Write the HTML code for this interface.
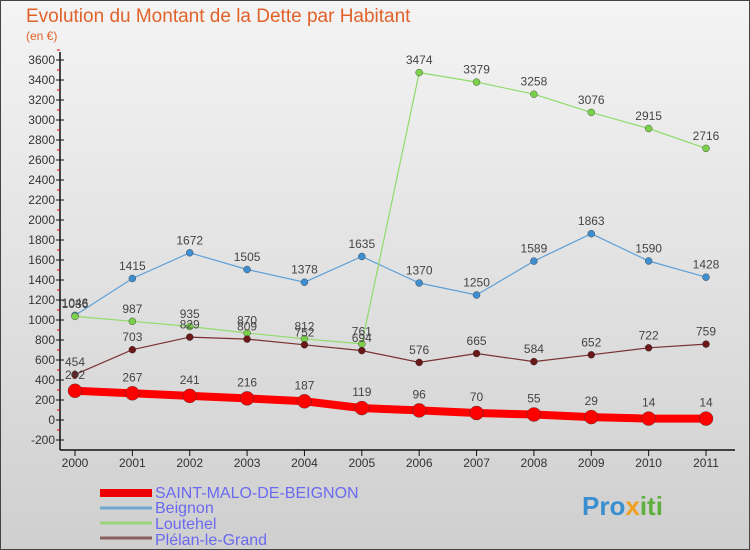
<!DOCTYPE html>
<html><head><meta charset="utf-8"><style>
body{margin:0;width:750px;height:550px;overflow:hidden;font-family:"Liberation Sans",sans-serif}
svg{display:block}
</style></head><body>
<svg id="c" width="750" height="550" xmlns="http://www.w3.org/2000/svg">
<defs><linearGradient id="bg" x1="0" y1="0" x2="0" y2="1"><stop offset="0" stop-color="#f4f4f4"/><stop offset="1" stop-color="#cfcfcf"/></linearGradient></defs>
<rect x="0" y="0" width="750" height="550" fill="url(#bg)" stroke="#444" stroke-width="2"/>
<text x="26" y="22" font-size="19" fill="#e0622a">Evolution du Montant de la Dette par Habitant</text>
<text x="26" y="40" font-size="12" fill="#e0622a">(en €)</text>
<g id="axes"></g><g id="series"></g>
<g>
<rect x="100" y="489" width="52" height="8" fill="#e00"/>
<text x="155" y="498" font-size="16" fill="#6a6af0">SAINT-MALO-DE-BEIGNON</text>
<line x1="100" y1="508" x2="152" y2="508" stroke="#6fa6d0" stroke-width="3"/>
<text x="155" y="513" font-size="16" fill="#6a6af0">Beignon</text>
<line x1="100" y1="523" x2="152" y2="523" stroke="#9ad47a" stroke-width="3"/>
<text x="155" y="529" font-size="16" fill="#6a6af0">Loutehel</text>
<line x1="100" y1="538" x2="152" y2="538" stroke="#8a6060" stroke-width="3"/>
<text x="155" y="545" font-size="16" fill="#6a6af0">Plélan-le-Grand</text>
</g>
<text x="582" y="515" font-size="26" font-weight="bold" fill="#3a8fd0">Pro<tspan fill="#f0a020">x</tspan><tspan fill="#60b040">iti</tspan></text>
</svg>
<script>
const years=["2000","2001","2002","2003","2004","2005","2006","2007","2008","2009","2010","2011"];
const yTicks=[-200,0,200,400,600,800,1000,1200,1400,1600,1800,2000,2200,2400,2600,2800,3000,3200,3400,3600];
const saintMalo=[292,267,241,216,187,119,96,70,55,29,14,14];
const beignon=[1046,1415,1672,1505,1378,1635,1370,1250,1589,1863,1590,1428];
const loutehel=[1036,987,935,870,812,761,3474,3379,3258,3076,2915,2716];
const plelan=[454,703,829,809,752,694,576,665,584,652,722,759];
const NS="http://www.w3.org/2000/svg";
const xs=i=>75+i*(706-75)/11;
const ys=v=>420-v*0.1;
function mk(t,a,p){const e=document.createElementNS(NS,t);for(const k in a)e.setAttribute(k,a[k]);p.appendChild(e);return e;}
const ax=document.getElementById('axes');
const yl=mk('line',{x1:60,y1:52,x2:60,y2:450,stroke:'#111','stroke-width':1.5},ax);


const xl=mk('line',{x1:60,y1:450,x2:735,y2:450,stroke:'#111','stroke-width':1.5},ax);


yTicks.forEach(v=>{
 mk('line',{x1:56,y1:ys(v),x2:64,y2:ys(v),stroke:'#111'},ax);
 mk('line',{x1:57,y1:ys(v+100),x2:60,y2:ys(v+100),stroke:'#e00'},ax);
 const t=mk('text',{x:55,y:ys(v)+4,'font-size':12,'text-anchor':'end',fill:'#333'},ax);
 t.textContent=v;
 
 
});
years.forEach((y,i)=>{
 mk('line',{x1:xs(i),y1:450,x2:xs(i),y2:456,stroke:'#111'},ax);
 const t=mk('text',{x:xs(i),y:467,'font-size':12,'text-anchor':'middle',fill:'#333'},ax);
 t.textContent=y;
 
 
});
const sg=document.getElementById('series');
function draw(data,color,w,r,name,dot,segs){
 const g=mk('g',{},sg);
 
 
 segs.forEach(s=>{
  const pts=[];for(let i=s[0];i<=s[1];i++)pts.push(xs(i)+','+ys(data[i]));
  mk('polyline',{points:pts.join(' '),fill:'none',stroke:color,'stroke-width':w},g);
 });
 data.forEach((v,i)=>{
  const c=mk('circle',{cx:xs(i),cy:ys(v),r:r,fill:dot,stroke:'#333','stroke-width':0.4},g);
  
  
  const t=mk('text',{x:xs(i),y:ys(v)-r-5,'font-size':12,'text-anchor':'middle',fill:'#444'},g);
  t.textContent=v;
 });
}
draw(beignon,'#5d9fd6',1.2,3.5,'series-beignon','#3e8ed0',[[0,11]]);
draw(loutehel,'#8fdc6a',1.2,3.5,'series-loutehel','#7bd04a',[[0,5],[5,11]]);
draw(plelan,'#7a3030',1.2,3.5,'series-plelan','#6a1818',[[0,11]]);
draw(saintMalo,'#f00',8,7,'series-saint-malo','#f00',[[0,11]]);
</script>
</body></html>
